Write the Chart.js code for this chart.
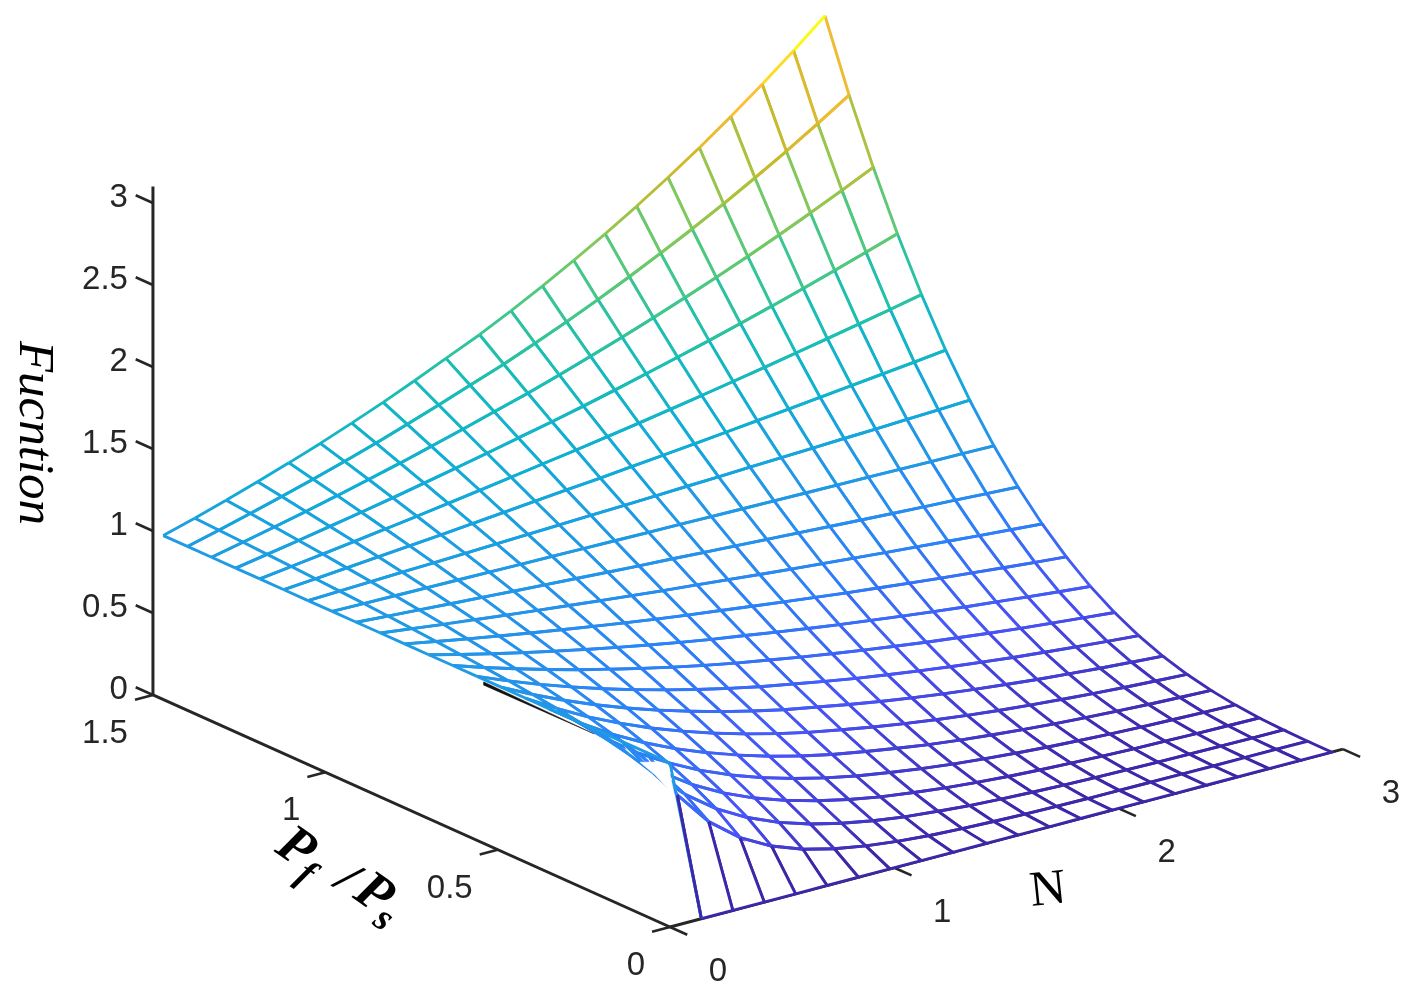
<!DOCTYPE html>
<html>
<head>
<meta charset="utf-8">
<title>Function surface</title>
<script src="https://cdn.jsdelivr.net/npm/chart.js@4/dist/chart.umd.js"></script>
<style>
  html,body{margin:0;padding:0;background:#fff;}
  canvas{display:block;}
</style>
</head>
<body>
<canvas id="surface" width="1419" height="993"></canvas>
<script>
// mesh positions: 22 lines each way
var n_values = [0,0.14,0.28,0.42,0.56,0.70,0.84,0.98,1.12,1.26,1.41,1.55,1.69,1.83,1.97,2.11,2.25,2.39,2.53,2.67,2.81,2.95];
var p_values = [0,0.07,0.14,0.21,0.28,0.35,0.42,0.49,0.56,0.63,0.70,0.77,0.84,0.91,0.98,1.05,1.12,1.19,1.26,1.33,1.40,1.47];

// height of the surface, one row per p_values entry. Estimated from the mesh
// vertices in the picture, then evened out by hand along a power curve
var z_p000 = [1,0,0,0,0,0,0,0,0,0,0,0,0,0,0,0,0,0,0,0,0,0];
var z_p007 = [1,.689,.475,.327,.225,.155,.107,.074,.051,.035,.024,.017,.011,.008,.005,.004,.003,.002,.001,.001,.001,0];
var z_p014 = [1,.759,.577,.438,.333,.253,.192,.146,.111,.084,.064,.048,.037,.028,.021,.016,.012,.009,.007,.005,.004,.003];
var z_p021 = [1,.804,.646,.519,.417,.335,.270,.217,.174,.140,.112,.090,.073,.058,.047,.038,.030,.024,.020,.016,.013,.010];
var z_p028 = [1,.837,.700,.586,.490,.410,.343,.287,.240,.201,.168,.141,.118,.099,.083,.069,.058,.048,.040,.034,.028,.024];
var z_p035 = [1,.863,.745,.643,.555,.480,.414,.357,.308,.266,.230,.199,.171,.148,.128,.110,.095,.082,.071,.061,.053,.046];
var z_p042 = [1,.886,.784,.695,.615,.545,.482,.427,.378,.335,.297,.263,.233,.206,.182,.161,.143,.127,.112,.099,.088,.078];
var z_p049 = [1,.905,.819,.741,.671,.607,.550,.497,.450,.407,.369,.334,.302,.273,.247,.224,.203,.183,.166,.150,.136,.123];
var z_p056 = [1,.922,.850,.784,.722,.666,.614,.566,.522,.481,.444,.409,.377,.348,.321,.296,.273,.251,.232,.214,.197,.182];
var z_p063 = [1,.937,.879,.824,.772,.724,.679,.636,.596,.559,.524,.491,.461,.432,.405,.379,.356,.333,.312,.293,.275,.257];
var z_p070 = [1,.951,.905,.861,.819,.779,.741,.705,.670,.638,.607,.577,.549,.522,.497,.472,.449,.427,.407,.387,.368,.350];
var z_p077 = [1,.964,.929,.896,.864,.833,.803,.774,.746,.720,.694,.669,.645,.622,.599,.578,.557,.537,.518,.499,.481,.464];
var z_p084 = [1,.976,.952,.929,.907,.885,.864,.843,.823,.803,.784,.765,.746,.728,.711,.694,.677,.661,.645,.629,.614,.599];
var z_p091 = [1,.987,.974,.961,.949,.936,.924,.912,.900,.888,.877,.865,.854,.843,.832,.821,.810,.799,.789,.779,.768,.758];
var z_p098 = [1,.997,.994,.992,.989,.986,.983,.981,.978,.975,.972,.970,.967,.964,.962,.959,.956,.954,.951,.948,.946,.943];
var z_p105 = [1,1.007,1.014,1.021,1.028,1.035,1.042,1.049,1.056,1.064,1.071,1.078,1.086,1.093,1.101,1.108,1.116,1.124,1.131,1.139,1.147,1.155];
var z_p112 = [1,1.016,1.032,1.049,1.065,1.082,1.100,1.117,1.135,1.153,1.171,1.190,1.209,1.228,1.248,1.268,1.288,1.309,1.330,1.351,1.372,1.394];
var z_p119 = [1,1.025,1.050,1.076,1.102,1.129,1.157,1.186,1.215,1.245,1.276,1.307,1.339,1.372,1.406,1.441,1.476,1.513,1.550,1.588,1.627,1.667];
var z_p126 = [1,1.033,1.067,1.102,1.138,1.175,1.214,1.254,1.295,1.338,1.382,1.427,1.474,1.523,1.573,1.624,1.678,1.733,1.790,1.849,1.910,1.972];
var z_p133 = [1,1.041,1.083,1.127,1.173,1.221,1.270,1.322,1.376,1.432,1.490,1.551,1.614,1.680,1.748,1.819,1.893,1.970,2.050,2.134,2.221,2.311];
var z_p140 = [1,1.048,1.099,1.152,1.207,1.265,1.326,1.390,1.457,1.527,1.601,1.678,1.758,1.843,1.932,2.025,2.122,2.225,2.332,2.444,2.562,2.685];
var z_p147 = [1,1.055,1.114,1.176,1.241,1.309,1.382,1.458,1.539,1.625,1.715,1.810,1.910,2.016,2.127,2.245,2.370,2.501,2.640,2.786,2.940,3.103];
var z_rows = [z_p000,z_p007,z_p014,z_p021,z_p028,z_p035,z_p042,z_p049,z_p056,z_p063,z_p070,z_p077,
              z_p084,z_p091,z_p098,z_p105,z_p112,z_p119,z_p126,z_p133,z_p140,z_p147];

var n_ticks = [0,1,2,3];
var p_ticks = [0,0.5,1,1.5];
var z_ticks = [0,0.5,1,1.5,2,2.5,3];
var z_top = 3.1;

// dark sliver just under the n=0 edge
var sliver_p = [0.54,0.54,0.22];
var sliver_z = [0.985,0.965,0.97];

// the fold next to n=0, p=0 where the picture shows no mesh lines
var fold_p = [0.006,-0.014,0.0435,0.087,0.029];
var fold_z = [0.985,0.809,0.887,0.923,0.979];

var AXIS_COLOR = "#262626";

// view of the 3d box, taken from where the axes sit in the window
function project(n,p,z){
  return {
    x: 670 + 224.3*n - 344.7*p,
    y: 927 - 59.3*n - 154.7*p - 164*z
  };
}

var parula_stops = [
  [62,38,168],[72,82,245],[45,128,248],[35,150,232],[15,174,213],[25,190,180],
  [70,200,135],[140,200,85],[205,185,40],[255,190,55],[249,251,21]
];
function getColor(z){
  var t = Math.max(0,Math.min(1,z/z_top))*(parula_stops.length-1);
  var k = Math.min(Math.floor(t),parula_stops.length-2);
  var f = t-k;
  var a = parula_stops[k], b = parula_stops[k+1];
  return "rgb("+Math.round(a[0]+(b[0]-a[0])*f)+","+Math.round(a[1]+(b[1]-a[1])*f)+","+Math.round(a[2]+(b[2]-a[2])*f)+")";
}

function makeFace(i,j){
  var zA = z_rows[j][i], zB = z_rows[j][i+1], zC = z_rows[j+1][i+1], zD = z_rows[j+1][i];
  // order of edges: A-B, B-C, C-D, D-A
  var edge = [getColor(zB),getColor(zB),getColor(zC),getColor(zA)];
  // corner cell: the long drop starts out light blue in the picture
  if(i==0 && j==0){
    edge[0] = getColor(zA);
  }
  return {
    data:[
      project(n_values[i],p_values[j],zA),
      project(n_values[i+1],p_values[j],zB),
      project(n_values[i+1],p_values[j+1],zC),
      project(n_values[i],p_values[j+1],zD),
      project(n_values[i],p_values[j],zA)
    ],
    showLine:true,
    pointRadius:0,
    borderWidth:2.9,
    fill:'shape',
    backgroundColor:"#fff",
    segment:{borderColor:function(ctx){return edge[ctx.p0DataIndex];}}
  };
}

function makeAxisLine(points,width){
  return {
    data:points,
    showLine:true,
    pointRadius:0,
    borderWidth:width,
    borderColor:AXIS_COLOR,
    fill:false
  };
}

function makeShape(ps,zs,color){
  var points = [];
  for(var k=0;k<ps.length;k++){
    points.push(project(0,ps[k],zs[k]));
  }
  points.push(project(0,ps[0],zs[0]));
  return {
    data:points,showLine:true,pointRadius:0,borderWidth:0.5,
    borderColor:color,backgroundColor:color,fill:'shape'
  };
}

var datasets = [];

datasets.push(makeShape(fold_p,fold_z,"#fff"));

// first dataset ends up on top, so nearest faces go first
for(var i=0;i<n_values.length-1;i++){
  for(var j=0;j<p_values.length-1;j++){
    datasets.push(makeFace(i,j));
  }
}

datasets.push(makeShape(sliver_p,sliver_z,"#111"));

// the box edges
datasets.push(makeAxisLine([project(0,1.5,0),project(0,1.5,z_top)],3));
datasets.push(makeAxisLine([project(0,1.5,0),project(0,0,0)],3));
datasets.push(makeAxisLine([project(0,0,0),project(3,0,0)],3));

// ticks
z_ticks.forEach(function(t){
  datasets.push(makeAxisLine([project(0,1.5,t),project(0,1.55,t)],2.6));
});
p_ticks.forEach(function(t){
  datasets.push(makeAxisLine([project(0,t,0),project(-0.08,t,0)],2.6));
});
n_ticks.forEach(function(t){
  datasets.push(makeAxisLine([project(t,0,0),project(t,-0.05,0)],2.6));
});

function putText(ctx,text,x,y,font,align,angle,color){
  ctx.save();
  ctx.translate(x,y);
  ctx.rotate((angle||0)*Math.PI/180);
  ctx.font = font;
  ctx.textAlign = align;
  ctx.textBaseline = "middle";
  ctx.fillStyle = color;
  ctx.fillText(text,0,0);
  ctx.restore();
}

var labelsPlugin = {
  id:'labels',
  afterDraw:function(chart){
    var ctx = chart.ctx;
    var tickFont = "33px 'Liberation Sans'";
    z_ticks.forEach(function(t){
      var q = project(0,1.5,t);
      putText(ctx,String(t),q.x-25,q.y-5,tickFont,"right",0,AXIS_COLOR);
    });
    p_ticks.forEach(function(t){
      var q = project(0,t,0);
      putText(ctx,String(t),q.x-25,q.y+39,tickFont,"right",0,AXIS_COLOR);
    });
    n_ticks.forEach(function(t){
      var q = project(t,0,0);
      putText(ctx,String(t),q.x+48,q.y+45,tickFont,"center",0,AXIS_COLOR);
    });
    putText(ctx,"Fucntion",33,433,"italic 51px 'Liberation Serif'","center",90,"#000");
    putText(ctx,"N",1048,891,"50px 'Liberation Serif'","center",-6,"#000");
    // Pf / Ps, one glyph at a time along the floor direction
    var big = "bold italic 54px 'Liberation Serif'";
    var small = "bold italic 38px 'Liberation Serif'";
    putText(ctx,"P",295,849,big,"center",35,"#000");
    putText(ctx,"f",305,875,small,"center",35,"#000");
    putText(ctx,"/",346,880,"bold italic 50px 'Liberation Serif'","center",35,"#000");
    putText(ctx,"P",373,895,big,"center",35,"#000");
    putText(ctx,"s",383,920,small,"center",35,"#000");
  }
};

var chart = new Chart(document.getElementById("surface"),{
  type:'scatter',
  data:{datasets:datasets},
  options:{
    responsive:false,
    animation:false,
    events:[],
    layout:{padding:0},
    scales:{
      x:{type:'linear',display:false,min:0,max:1419},
      y:{type:'linear',display:false,min:0,max:993,reverse:true}
    },
    plugins:{legend:{display:false},tooltip:{enabled:false}}
  },
  plugins:[labelsPlugin]
});
</script>
</body>
</html>
